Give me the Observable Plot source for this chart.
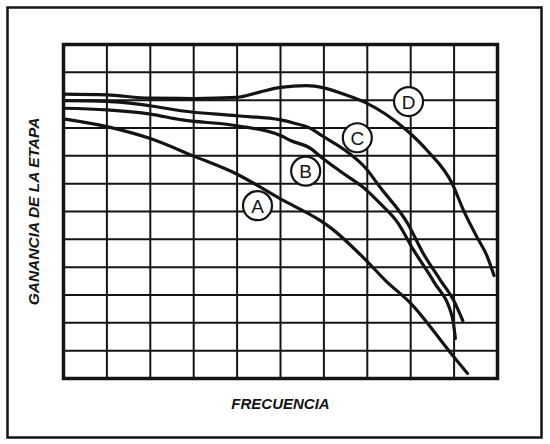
<!DOCTYPE html>
<html>
<head>
<meta charset="utf-8">
<script src="https://cdn.jsdelivr.net/npm/d3@7"></script>
<script src="https://cdn.jsdelivr.net/npm/@observablehq/plot@0.6"></script>
<style>
  html, body { margin: 0; padding: 0; background: #fff; }
  #chart svg { display: block; }
</style>
</head>
<body>
<div id="chart"></div>
<script>
// Grid divisions (unitless frequency / gain)
const xTicks = [0, 1, 2, 3, 4, 5, 6, 7, 8, 9, 10];
const yTicks = [0, 1, 2, 3, 4, 5, 6, 7, 8, 9, 10, 11, 12];

// Curve A
const xA = [0, 1, 2, 3, 4, 5, 5.92, 6.15, 6.91, 7.42, 8.0, 8.99, 9.31];
const yA = [9.33, 9.05, 8.62, 7.99, 7.34, 6.45, 5.67, 5.42, 4.34, 3.52, 2.7, 0.78, 0.18];
// Curve B
const xB = [0, 1, 2, 2.7, 4, 5, 5.23, 5.7, 5.94, 6.4, 6.91, 7.3, 7.7, 8.06, 8.53, 8.96, 9.03];
const yB = [9.71, 9.65, 9.5, 9.3, 9.08, 8.73, 8.55, 8.26, 7.95, 7.42, 6.86, 6.28, 5.6, 4.63, 3.48, 2.19, 1.44];
// Curve C
const xC = [0, 1, 2, 2.7, 4, 5, 5.3, 5.7, 5.95, 6.55, 6.95, 7.3, 7.93, 8.29, 8.69, 8.99, 9.2];
const yC = [9.98, 9.96, 9.8, 9.62, 9.44, 9.29, 9.18, 8.98, 8.73, 8.13, 7.58, 6.86, 5.57, 4.49, 3.52, 2.8, 2.08];
// Curve D
const xD = [0, 1, 2, 3, 4, 4.5, 5, 5.6, 6, 6.4, 6.95, 7.4, 7.92, 8.38, 8.96, 9.22, 9.53, 9.76, 9.92];
const yD = [10.22, 10.19, 10.07, 10.06, 10.1, 10.28, 10.46, 10.52, 10.44, 10.25, 9.92, 9.52, 8.9, 8.19, 6.99, 6.03, 5.07, 4.4, 3.7];

// Curve labels
const labelNames = ["A", "B", "C", "D"];
const labelX = [4.47, 5.58, 6.77, 7.95];
const labelY = [6.21, 7.45, 8.65, 9.95];

const xTitle = "FRECUENCIA";
const yTitle = "GANANCIA DE LA ETAPA";

const series = [
  {name: "A", xs: xA, ys: yA},
  {name: "B", xs: xB, ys: yB},
  {name: "C", xs: xC, ys: yC},
  {name: "D", xs: xD, ys: yD}
];
const lineData = series.flatMap(s => s.xs.map((x, i) => ({curve: s.name, x, y: s.ys[i]})));
const labels = labelNames.map((n, i) => ({name: n, x: labelX[i], y: labelY[i]}));

const ink = "#141414";
const font = "'Liberation Sans', 'DejaVu Sans', sans-serif";

const chart = Plot.plot({
  width: 550,
  height: 444,
  marginLeft: 63,
  marginRight: 53,
  marginTop: 44,
  marginBottom: 66,
  x: {domain: [0, 10], axis: null},
  y: {domain: [0, 12], axis: null},
  style: {background: "#fff", fontFamily: font},
  marks: [
    // outer border of the figure
    Plot.frame({stroke: ink, strokeWidth: 2.5, insetLeft: -56, insetTop: -37, insetRight: -44, insetBottom: -59}),
    Plot.ruleX(xTicks, {stroke: ink, strokeWidth: 2}),
    Plot.ruleY(yTicks, {stroke: ink, strokeWidth: 2}),
    Plot.frame({stroke: ink, strokeWidth: 3.5}),
    Plot.line(lineData, {x: "x", y: "y", z: "curve", stroke: ink, strokeWidth: 3.2, curve: "monotone-x"}),
    Plot.dot(labels, {x: "x", y: "y", r: 14.5, fill: "#fff", stroke: ink, strokeWidth: 2.2}),
    Plot.text(labels, {x: "x", y: "y", text: "name", fontSize: 19, fill: ink, dy: 1}),
    Plot.text([xTitle], {frameAnchor: "bottom", dy: 30, fontSize: 15, fontStyle: "italic", fontWeight: "bold", fill: ink}),
    Plot.text([yTitle], {frameAnchor: "left", textAnchor: "middle", dx: -29, rotate: -90, fontSize: 15.5, fontStyle: "italic", fontWeight: "bold", fill: ink})
  ]
});
document.getElementById("chart").appendChild(chart);
</script>
</body>
</html>
